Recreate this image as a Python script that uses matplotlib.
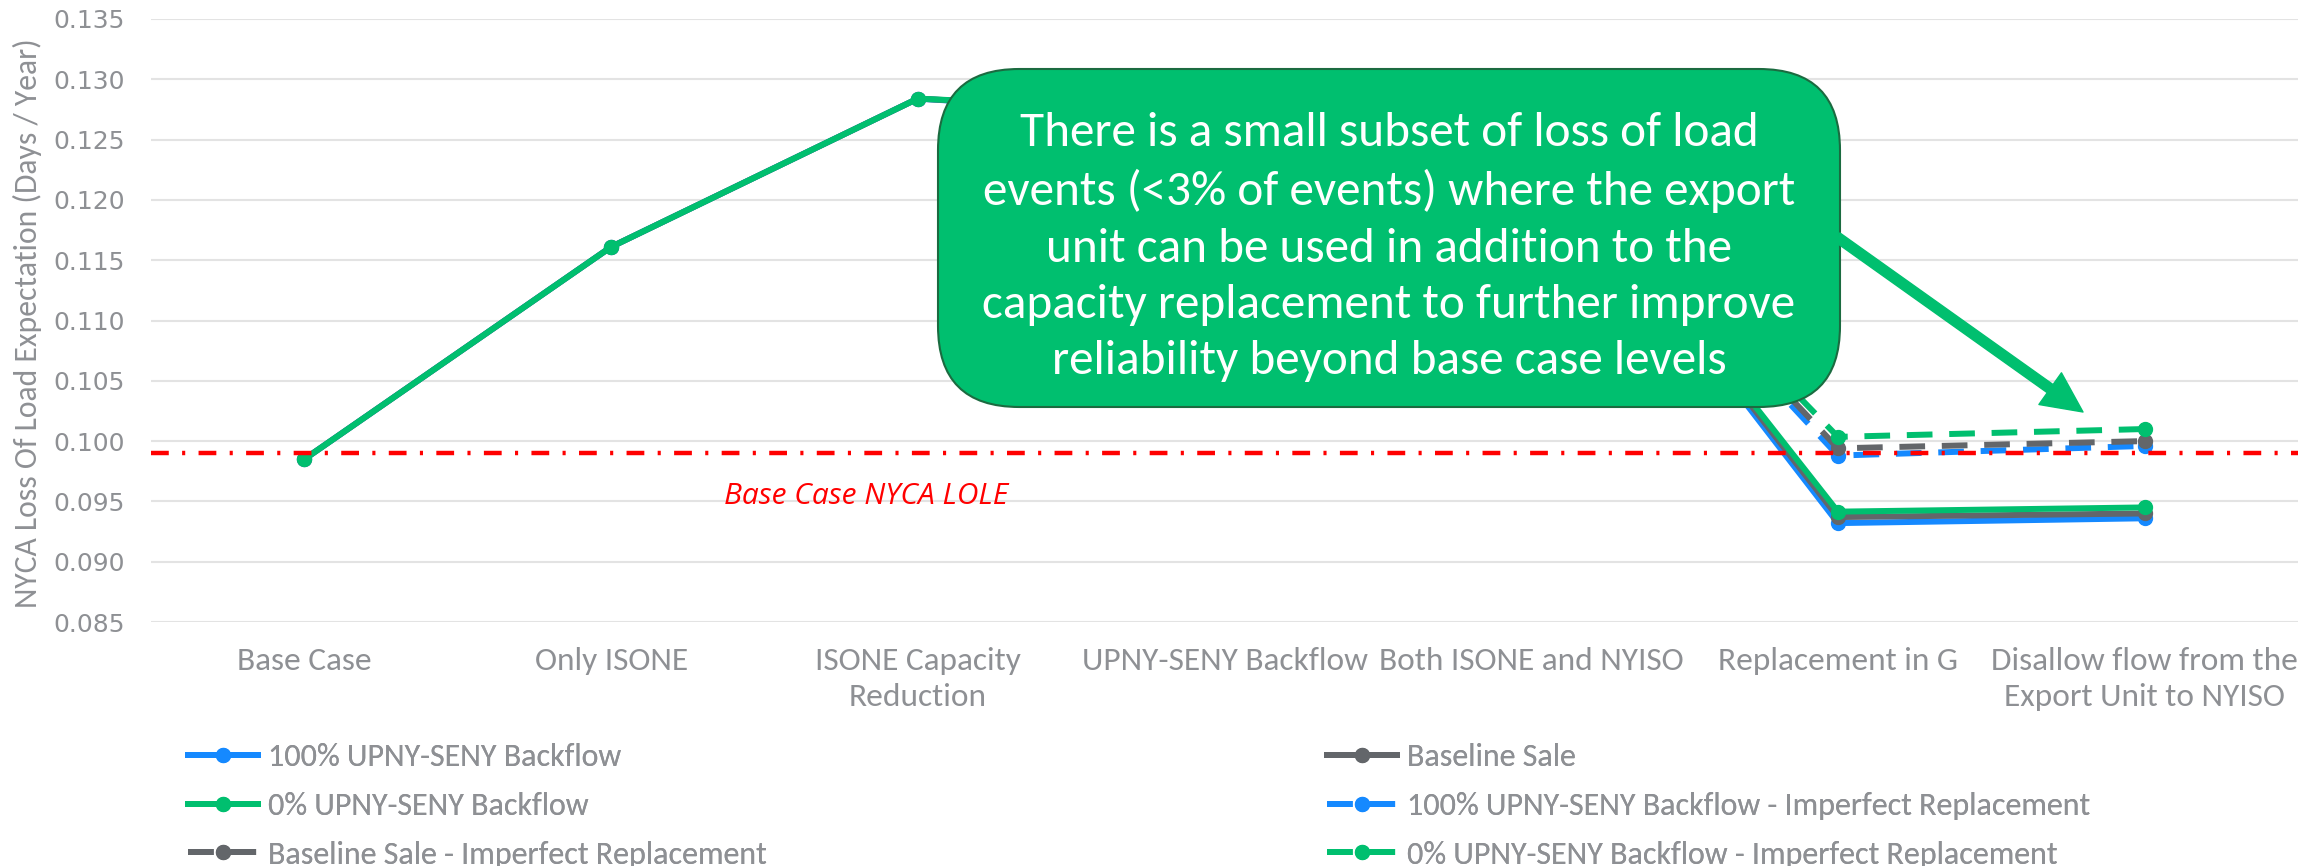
import numpy as np
import matplotlib
matplotlib.use("Agg")
import matplotlib.pyplot as plt
from matplotlib import font_manager
from matplotlib.patches import FancyBboxPatch, FancyArrowPatch

names = {f.name for f in font_manager.fontManager.ttflist}
COND = next((n for n in ["Carlito", "Liberation Sans Narrow", "Roboto Condensed", "DejaVu Sans"]
             if n in names), "DejaVu Sans")
ITAL = "Open Sans" if "Open Sans" in names else "DejaVu Sans"

categories = ["Base Case", "Only ISONE", "ISONE Capacity\nReduction", "UPNY-SENY Backflow",
              "Both ISONE and NYISO", "Replacement in G",
              "Disallow flow from the\nExport Unit to NYISO"]

nan = np.nan
backflow_100 = [0.0985, 0.1161, 0.1284, 0.1268, 0.1262, 0.0932, 0.0936]
baseline_sale = [0.0985, 0.1161, 0.1284, 0.1270, 0.1264, 0.0937, 0.0940]
backflow_0 = [0.0985, 0.1161, 0.1284, 0.1272, 0.1265, 0.09415, 0.0945]
backflow_100_imp = [nan, nan, nan, nan, 0.1262, 0.0988, 0.0996]
baseline_sale_imp = [nan, nan, nan, nan, 0.1264, 0.0994, 0.1000]
backflow_0_imp = [nan, nan, nan, nan, 0.1265, 0.10035, 0.1010]
base_lole = 0.099

BLUE, GRAY, GREEN, RED = "#1589FF", "#63666A", "#00BF6F", "#FF0000"
TXT = "#8E9094"

W, H = 2318, 866
fig = plt.figure(figsize=(W / 100, H / 100), dpi=100)
ax = fig.add_axes([151 / W, 1 - 622 / H, (2298 - 151) / W, (622 - 19) / H])

x = np.arange(len(categories))
series = [
    ("100% UPNY-SENY Backflow", backflow_100, BLUE, "-"),
    ("Baseline Sale", baseline_sale, GRAY, "-"),
    ("0% UPNY-SENY Backflow", backflow_0, GREEN, "-"),
    ("100% UPNY-SENY Backflow - Imperfect Replacement", backflow_100_imp, BLUE, "--"),
    ("Baseline Sale - Imperfect Replacement", baseline_sale_imp, GRAY, "--"),
    ("0% UPNY-SENY Backflow - Imperfect Replacement", backflow_0_imp, GREEN, "--"),
]
handles = {}
for i, (label, vals, color, ls) in enumerate(series):
    kw = dict(color=color, lw=4.3, marker="o", markersize=10, zorder=3 + i, label=label)
    if ls == "--":
        kw["dashes"] = (4.3, 2.8)
    (ln,) = ax.plot(x, vals, **kw)
    handles[label] = ln

ax.axhline(base_lole, color=RED, lw=3.2, dashes=(4, 3, 0.7, 3), zorder=10)
ax.text(1.83, 0.0954, "Base Case NYCA LOLE", color=RED, fontsize=21.5, style="italic",
        fontfamily=ITAL, ha="center", va="center")

ax.set_xlim(-0.5, 6.5)
ax.set_ylim(0.085, 0.135)
yt = np.arange(0.085, 0.1351, 0.005)
ax.set_yticks(yt)
ax.set_yticklabels([f"{v:.3f}" for v in yt])
ax.set_xticks(x)
ax.set_xticklabels(categories, fontfamily=COND, fontsize=24, color=TXT, linespacing=1.36)
ax.tick_params(axis="y", length=0, pad=19, labelsize=18, labelcolor=TXT)
ax.tick_params(axis="x", length=0, pad=18)
ax.grid(axis="y", color="#E3E3E3", lw=1.5)
ax.set_axisbelow(True)
for s in ax.spines.values():
    s.set_visible(False)
fig.text(27 / W, 1 - 323 / H, "NYCA Loss Of Load Expectation (Days / Year)", rotation=90,
         ha="center", va="center", fontfamily=COND, fontsize=22.8, color=TXT)

# legend: two columns, row-major order as in the source
left = [series[0][0], series[2][0], series[4][0]]
right = [series[1][0], series[3][0], series[5][0]]
for cols, xpos in [(left, 188), (right, 1327)]:
    leg = fig.legend([handles[l] for l in cols], cols, loc="upper left",
                     bbox_to_anchor=(xpos / W, 1 - 743 / H), frameon=False,
                     borderpad=0, borderaxespad=0, handlelength=2.2, handletextpad=0.3,
                     labelspacing=0.65, prop={"family": COND, "size": 23})
    for t in leg.get_texts():
        t.set_color(TXT)
    fig.add_artist(leg)

# callout
box = FancyBboxPatch((938 / W, 1 - 407 / H), 902 / W, 338 / H,
                     boxstyle="round,pad=0,rounding_size=0.035", mutation_aspect=W / H,
                     transform=fig.transFigure, facecolor=GREEN, edgecolor="#1B6B40", lw=1.5)
fig.add_artist(box)
fig.text(1389 / W, 1 - 247 / H,
         "There is a small subset of loss of load\n"
         "events (<3% of events) where the export\n"
         "unit can be used in addition to the\n"
         "capacity replacement to further improve\n"
         "reliability beyond base case levels",
         ha="center", va="center", color="white", fontfamily=COND, fontsize=35.5,
         linespacing=1.42)
arrow = FancyArrowPatch((1837 / W, 1 - 237 / H), (2083 / W, 1 - 412 / H),
                        transform=fig.transFigure, mutation_scale=1,
                        arrowstyle="simple,head_length=29,head_width=28,tail_width=7.2",
                        color=GREEN, shrinkA=0, shrinkB=0)
fig.add_artist(arrow)

fig.savefig("out.png", dpi=100)
